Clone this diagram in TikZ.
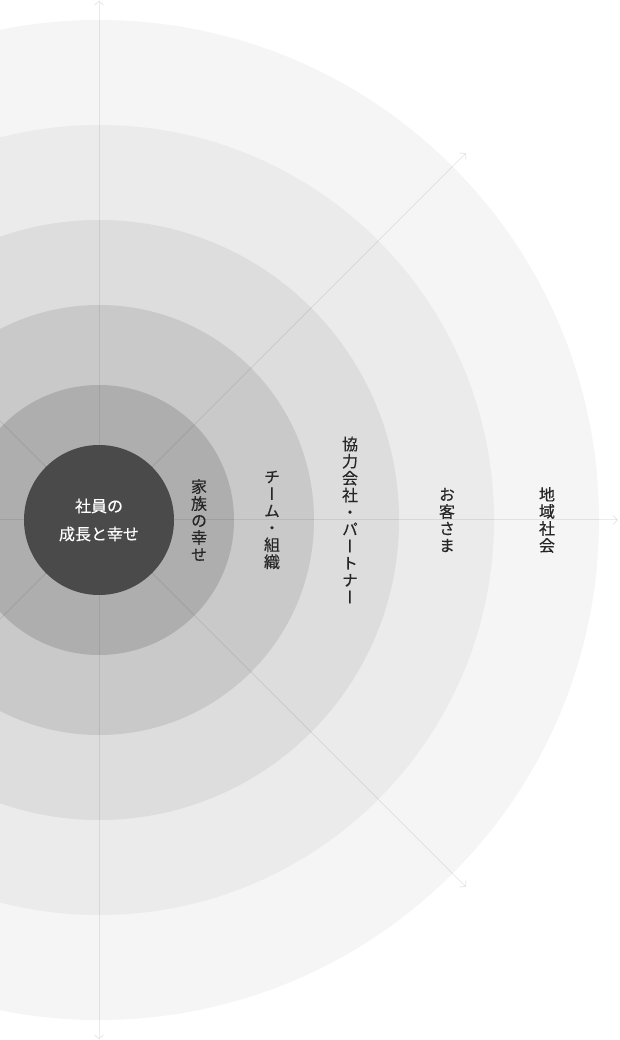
\documentclass[tikz,border=0pt]{standalone}
\usepackage{fontspec}
\newfontfamily\jp[FakeBold=.4]{Noto Sans CJK JP}
\newfontfamily\jpv[RawFeature=+vert,FakeBold=.3]{Noto Sans CJK JP}
\usetikzlibrary{arrows.meta}
\definecolor{ringa}{HTML}{F5F5F5}
\definecolor{ringb}{HTML}{EBEBEB}
\definecolor{ringc}{HTML}{DDDDDD}
\definecolor{ringd}{HTML}{C9C9C9}
\definecolor{ringe}{HTML}{AEAEAE}
\definecolor{core}{HTML}{4A4A4A}
\definecolor{ink}{HTML}{262626}
\begin{document}
\begin{tikzpicture}[x=1pt,y=1pt,
  axis/.style={draw=black,draw opacity=.08,line width=1pt},
  tip/.style={-{Straight Barb[length=4pt,width=9pt,line width=1pt]}},
  tate/.style={align=center,text=ink,inner sep=0pt,font=\jpv\fontsize{16}{17}\selectfont},
  baseline={(current bounding box.north)}]
  \useasboundingbox (-99,-520) rectangle (521,520);
  \coordinate (o) at (0,0);
  \coordinate (N) at (90:519.5);
  \coordinate (S) at (270:519.5);
  \coordinate (E) at (0:519);
  \coordinate (W) at (180:99);
  \coordinate (NE) at (45:519);
  \coordinate (SE) at (-45:519);
  \coordinate (NW) at (135:141);
  \coordinate (SW) at (225:141);
  % rings
  \fill[ringa] (o) circle (500pt);
  \fill[ringb] (o) circle (395pt);
  \fill[ringc] (o) circle (300pt);
  \fill[ringd] (o) circle (215pt);
  \fill[ringe] (o) circle (135pt);
  % axes
  \draw[axis,{Straight Barb[length=4pt,width=9pt,line width=1pt]}-{Straight Barb[length=4pt,width=9pt,line width=1pt]}] (S) -- (N);
  \draw[axis,tip] (W) -- (E);
  \draw[axis,tip] (SW) -- (NE);
  \draw[axis,tip] (NW) -- (SE);
  \fill[core] (o) circle (75pt);
  \node[align=center,text=white,font=\jp\fontsize{16}{28}\selectfont] (self) at (o) {社員の\\成長と幸せ};
  \node[tate] (family) at (0:100) {家\\族\\の\\幸\\せ};
  \node[tate] (team) at (0:173) {チ\\ー\\ム\\・\\組\\織};
  \node[tate] (partner) at (0:251) {協\\力\\会\\社\\・\\パ\\ー\\ト\\ナ\\ー};
  \node[tate] (customer) at (0:348) {お\\客\\さ\\ま};
  \node[tate] (community) at (0:448) {地\\域\\社\\会};
\end{tikzpicture}
\end{document}
